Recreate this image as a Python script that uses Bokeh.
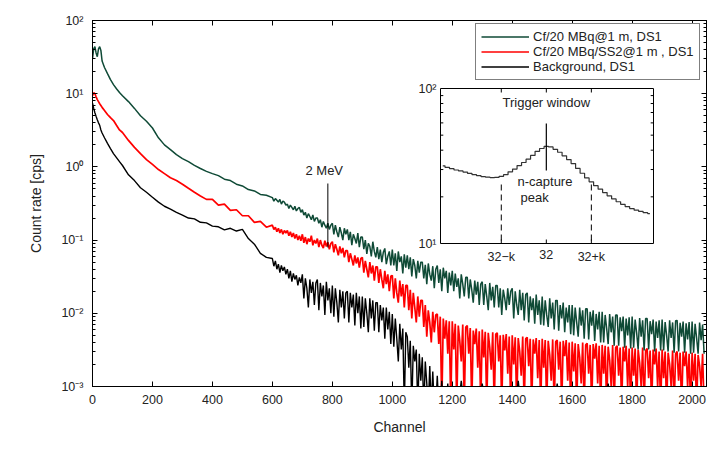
import math
from bokeh.plotting import figure
from bokeh.models import (Range1d, LogScale, LinearAxis, LogAxis, SingleIntervalTicker,
                          LogTicker, CustomJSTickFormatter, Legend, LegendItem)
from bokeh.core.properties import value
from bokeh.embed import file_html
from bokeh.resources import INLINE

FONT = "Liberation Sans"
TXT = "#222222"

# ---------------- data ----------------
low_channels = [0, 4, 8, 12, 16, 20, 24, 28, 32, 40, 50, 60, 70, 80, 90,
                100, 120, 140, 160, 180, 200, 220, 240, 260, 280, 300, 320, 340, 360, 380,
                400, 420, 440, 460, 480, 500, 520, 540, 560, 580]
channels = low_channels + list(range(600, 2041, 5))
bg_channels = low_channels + list(range(600, 1201, 5)) + list(range(1210, 2041, 10))

cf_ds1 = [
    30, 41, 44, 36, 32, 41, 44, 39, 28, 22.8, 18.8, 15.6, 13.3, 11.7, 10.4,
    9.4, 7.8, 6.3, 5.0, 4.2, 3.4, 2.5, 2.0, 1.72, 1.47, 1.30, 1.18, 1.05, 0.95, 0.87,
    0.81, 0.76, 0.68, 0.65, 0.58, 0.55, 0.49, 0.47, 0.42, 0.41,
    0.38, 0.34, 0.37, 0.35, 0.33, 0.36, 0.31, 0.34, 0.33, 0.30,
    0.31, 0.27, 0.30, 0.28, 0.26, 0.29, 0.25, 0.27, 0.28, 0.24,
    0.26, 0.22, 0.24, 0.20, 0.23, 0.21, 0.19, 0.22, 0.18, 0.20,
    0.20, 0.17, 0.19, 0.15, 0.18, 0.16, 0.145, 0.17, 0.14, 0.16,
    0.17, 0.12, 0.16, 0.13, 0.11, 0.15, 0.125, 0.10, 0.145, 0.12,
    0.14, 0.10, 0.13, 0.085, 0.12, 0.105, 0.09, 0.125, 0.08, 0.11,
    0.11, 0.075, 0.10, 0.065, 0.09, 0.082, 0.06, 0.095, 0.07, 0.058,
    0.08, 0.055, 0.074, 0.05, 0.068, 0.077, 0.047, 0.06, 0.07, 0.045,
    0.074, 0.045, 0.066, 0.038, 0.07, 0.05, 0.06, 0.035, 0.064, 0.042,
    0.062, 0.04, 0.058, 0.032, 0.055, 0.045, 0.03, 0.052, 0.036, 0.05,
    0.05, 0.03, 0.046, 0.025, 0.048, 0.034, 0.028, 0.044, 0.022, 0.04,
    0.045, 0.026, 0.04, 0.02, 0.042, 0.03, 0.038, 0.019, 0.036, 0.024,
    0.038, 0.02, 0.035, 0.023, 0.03, 0.016, 0.034, 0.025, 0.017, 0.031,
    0.031, 0.016, 0.029, 0.021, 0.014, 0.028, 0.018, 0.027, 0.013, 0.025,
    0.027, 0.013, 0.025, 0.017, 0.011, 0.026, 0.015, 0.023, 0.012, 0.024,
    0.024, 0.012, 0.022, 0.0095, 0.021, 0.016, 0.011, 0.022, 0.013, 0.02,
    0.022, 0.0085, 0.02, 0.013, 0.0095, 0.021, 0.011, 0.019, 0.008, 0.018,
    0.019, 0.0075, 0.017, 0.011, 0.016, 0.0072, 0.018, 0.0095, 0.015, 0.007,
    0.017, 0.0068, 0.015, 0.0095, 0.0065, 0.016, 0.0085, 0.014, 0.006, 0.015,
    0.015, 0.0058, 0.013, 0.0085, 0.014, 0.0055, 0.012, 0.0075, 0.013, 0.0052,
    0.013, 0.005, 0.012, 0.0075, 0.0048, 0.012, 0.0068, 0.011, 0.0045, 0.0115,
    0.0115, 0.0044, 0.0105, 0.0068, 0.011, 0.0042, 0.0098, 0.006, 0.0105, 0.004,
    0.0105, 0.004, 0.0095, 0.0062, 0.0038, 0.0098, 0.0055, 0.009, 0.0036, 0.0095,
    0.0095, 0.0036, 0.0088, 0.0057, 0.009, 0.0034, 0.0085, 0.005, 0.0088, 0.0033,
    0.009, 0.0034, 0.0082, 0.0054, 0.0032, 0.0086, 0.0048, 0.008, 0.0031, 0.0085,
    0.0085, 0.0032, 0.0078, 0.0052, 0.0082, 0.003, 0.0077, 0.0046, 0.008, 0.0031,
    0.0082, 0.0031, 0.0076, 0.005, 0.003, 0.008, 0.0046, 0.0075, 0.0029, 0.0079,
    0.008, 0.003, 0.0074, 0.0048, 0.0077, 0.0029, 0.0073, 0.0044, 0.0076, 0.0028,
    0.0077, 0.0029, 0.0072, 0.0046, 0.0028, 0.0075, 0.0043, 0.007, 0.0028,
]

cf_ss2_ds1 = [
    9.4, 10.3, 10.0, 9.1, 8.3, 7.8, 7.3, 6.9, 6.5, 5.9, 5.2, 4.7, 4.3, 3.7, 3.2,
    2.95, 2.3, 1.85, 1.52, 1.26, 1.08, 0.92, 0.81, 0.71, 0.65, 0.58, 0.51, 0.45, 0.40, 0.36,
    0.36, 0.30, 0.31, 0.255, 0.26, 0.215, 0.215, 0.175, 0.18, 0.15,
    0.16, 0.14, 0.15, 0.13, 0.145, 0.125, 0.14, 0.12, 0.135, 0.125,
    0.135, 0.115, 0.13, 0.11, 0.125, 0.105, 0.12, 0.10, 0.115, 0.098,
    0.12, 0.092, 0.11, 0.088, 0.105, 0.095, 0.115, 0.085, 0.10, 0.09,
    0.105, 0.08, 0.10, 0.085, 0.078, 0.098, 0.082, 0.094, 0.075, 0.09,
    0.095, 0.068, 0.088, 0.075, 0.062, 0.082, 0.066, 0.078, 0.058, 0.072,
    0.072, 0.05, 0.066, 0.055, 0.045, 0.062, 0.048, 0.058, 0.042, 0.056,
    0.058, 0.036, 0.052, 0.04, 0.031, 0.05, 0.035, 0.045, 0.028, 0.043,
    0.043, 0.026, 0.04, 0.029, 0.022, 0.038, 0.025, 0.034, 0.02, 0.032,
    0.033, 0.016, 0.03, 0.019, 0.014, 0.028, 0.017, 0.025, 0.012, 0.024,
    0.024, 0.011, 0.021, 0.0085, 0.019, 0.012, 0.0075, 0.017, 0.009, 0.015,
    0.015, 0.0065, 0.013, 0.0048, 0.011, 0.0075, 0.004, 0.0105, 0.0055, 0.0095,
    0.0098, 0.0038, 0.009, 0, 0.0085, 0.0045, 0.008, 0.0028, 0.0078, 0,
    0.0078, 0.0032, 0.0072, 0, 0.0068, 0.0042, 0.0022, 0.007, 0, 0.0065,
    0.0068, 0.0028, 0.0063, 0, 0.0058, 0.0038, 0.0062, 0.0018, 0.0057, 0,
    0.006, 0.0025, 0.0056, 0, 0.0054, 0.0034, 0.0017, 0.0055, 0, 0.0052,
    0.0054, 0.0022, 0.005, 0, 0.0051, 0.0031, 0.0052, 0.0015, 0.0048, 0,
    0.005, 0.002, 0.0047, 0, 0.0046, 0.003, 0.0014, 0.0048, 0, 0.0045,
    0.0047, 0.0019, 0.0045, 0, 0.0044, 0.0028, 0.0046, 0.0013, 0.0043, 0,
    0.0045, 0.0018, 0.0043, 0, 0.0042, 0.0027, 0.0012, 0.0044, 0, 0.0041,
    0.0043, 0.0017, 0.0041, 0, 0.0042, 0.0026, 0.0043, 0.0012, 0.004, 0,
    0.0041, 0.0016, 0.0039, 0, 0.0038, 0.0025, 0.0011, 0.004, 0, 0.0037,
    0.0039, 0.0015, 0.0037, 0, 0.0038, 0.0024, 0.0039, 0.0011, 0.0036, 0,
    0.0037, 0.0015, 0.0036, 0, 0.0035, 0.0023, 0.001, 0.0037, 0, 0.0034,
    0.0036, 0.0014, 0.0034, 0, 0.0035, 0.0022, 0.0036, 0.001, 0.0033, 0,
    0.0034, 0.0014, 0.0033, 0, 0.0032, 0.0021, 0.001, 0.0034, 0, 0.0031,
    0.0033, 0.0013, 0.0031, 0, 0.0032, 0.002, 0.0033, 0.001, 0.003, 0,
    0.0032, 0.0013, 0.003, 0, 0.0029, 0.002, 0.001, 0.0031, 0, 0.0028,
    0.003, 0.0012, 0.0029, 0, 0.003, 0.0019, 0.003, 0.001, 0.0028, 0,
    0.0029, 0.0012, 0.0028, 0, 0.0027, 0.0019, 0.001, 0.0028, 0,
]

background_ds1 = [
    7.4, 6.3, 5.5, 4.9, 4.4, 4.0, 3.7, 3.2, 2.9, 2.5, 2.1, 1.78, 1.52, 1.34, 1.18,
    1.045, 0.78, 0.65, 0.52, 0.45, 0.385, 0.33, 0.29, 0.265, 0.24, 0.22, 0.20, 0.195, 0.175, 0.172,
    0.155, 0.152, 0.138, 0.145, 0.133, 0.14, 0.105, 0.088, 0.066, 0.058,
    0.056, 0.044, 0.052, 0.04, 0.047, 0.036, 0.045, 0.038, 0.043, 0.034,
    0.04, 0.03, 0.038, 0.027, 0.035, 0.029, 0.033, 0.024, 0.031, 0.026,
    0.034, 0.016, 0.03, 0.022, 0.012, 0.029, 0.019, 0.027, 0.013, 0.026,
    0.029, 0.011, 0.026, 0.017, 0.024, 0.0095, 0.027, 0.015, 0.022, 0.01,
    0.024, 0.009, 0.022, 0.014, 0.0075, 0.021, 0.012, 0.02, 0.0085, 0.019,
    0.02, 0.0075, 0.019, 0.012, 0.018, 0.0068, 0.019, 0.01, 0.017, 0.0062,
    0.017, 0.0065, 0.016, 0.01, 0.0055, 0.016, 0.0085, 0.015, 0.0058, 0.014,
    0.014, 0.0055, 0.013, 0.008, 0.012, 0.0045, 0.012, 0.006, 0.0105, 0.0038,
    0.0098, 0.0035, 0.0085, 0.0045, 0.0022, 0.0072, 0.0032, 0.0062, 0, 0.0055,
    0.0048, 0.0018, 0.0042, 0, 0.0036, 0.0022, 0.0032, 0, 0.0028, 0.0012,
    0.0025, 0, 0.0022, 0.0011, 0, 0.0019, 0, 0.0016, 0, 0,
    0.0014, 0, 0, 0.0012, 0, 0, 0, 0.0011, 0, 0,
    0,
    0, 0, 0.0012, 0, 0, 0, 0, 0, 0, 0.0011,
    0, 0, 0, 0, 0, 0, 0, 0, 0, 0,
    0, 0.0012, 0, 0, 0, 0, 0, 0, 0, 0,
    0, 0, 0, 0, 0.0011, 0, 0, 0, 0, 0,
    0, 0, 0, 0, 0, 0, 0, 0, 0, 0,
    0, 0.0011, 0, 0, 0, 0, 0, 0, 0, 0,
    0, 0, 0, 0, 0, 0, 0, 0, 0, 0,
    0, 0, 0, 0, 0, 0, 0, 0, 0, 0,
    0, 0, 0, 0,
]

series_labels = ["Cf/20 MBq@1 m, DS1", "Cf/20 MBq/SS2@1 m , DS1", "Background, DS1"]
series_colors = ["#0f4a36", "#ff0000", "#000000"]

# inset: zoom around the n-capture peak
inset_channel = list(range(9, 56))
inset_rate = [31.7, 31.0, 30.4, 29.8, 29.4, 28.9, 28.3, 27.8, 27.4, 27.0, 26.8, 26.6,
              26.7, 27.1, 27.8, 29.0, 30.2, 31.8, 33.3, 35.0, 37.0, 39.3, 41.0, 42.3,
              42.0, 40.5, 38.8, 36.8, 34.8, 32.8, 30.5, 28.4, 26.5, 25.0, 23.6, 22.4,
              21.3, 20.3, 19.4, 18.6, 17.9, 17.3, 16.8, 16.4, 16.1, 15.8, 15.6]
inset_tick_pos = [22, 32, 42]
inset_tick_labels = ["32\u2212k", "32", "32+k"]
mev2_channel = 785

ZERO_FLOOR = 5e-4  # zero counts drawn below the axis floor


def for_log(vals):
    return [v if v > 0 else ZERO_FLOOR for v in vals]


# ---------------- layout geometry (pixels) ----------------
W, H = 711, 451
FL, FR, FT, FB = 92, 706, 20, 386

p = figure(width=W, height=H, x_range=Range1d(0, 2048), y_range=Range1d(1e-3, 1e2),
           y_axis_type="log", output_backend="svg", toolbar_location=None,
           min_border_left=FL, min_border_right=W - FR, min_border_top=FT,
           min_border_bottom=H - FB)
p.xgrid.visible = False
p.ygrid.visible = False
p.outline_line_color = "black"
p.background_fill_color = "white"
p.border_fill_color = "white"

sup = CustomJSTickFormatter(code="""
const m = {"-": "\u207b", "0": "\u2070", "1": "\u00b9", "2": "\u00b2", "3": "\u00b3",
           "4": "\u2074", "5": "\u2075", "6": "\u2076", "7": "\u2077", "8": "\u2078", "9": "\u2079"};
const e = Math.round(Math.log10(tick));
return "10" + String(e).split("").map(c => m[c]).join("");
""")
blank = CustomJSTickFormatter(code="return ''")

xa = p.xaxis[0]
xa.ticker = SingleIntervalTicker(interval=200, num_minor_ticks=0)
xa.axis_label = "Channel"
ya = p.yaxis[0]
ya.ticker = LogTicker(num_minor_ticks=10)
ya.formatter = sup
ya.axis_label = "Count rate [cps]"
for ax in (xa, ya):
    ax.major_tick_in = 5
    ax.major_tick_out = 0
    ax.minor_tick_in = 3
    ax.minor_tick_out = 0
    ax.major_label_text_font = FONT
    ax.major_label_text_font_size = "12.5px"
    ax.major_label_text_color = TXT
    ax.axis_label_text_font = FONT
    ax.axis_label_text_font_size = "14px"
    ax.axis_label_text_font_style = "normal"
    ax.axis_label_text_color = TXT
    ax.axis_line_color = "black"
    ax.major_tick_line_color = "black"
    ax.minor_tick_line_color = "black"
xa.major_label_standoff = 8
xa.axis_label_standoff = 12
ya.major_label_standoff = 9
ya.axis_label_standoff = 14

top = LinearAxis(ticker=SingleIntervalTicker(interval=200, num_minor_ticks=0), formatter=blank,
                 major_tick_in=5, major_tick_out=0, major_label_standoff=0,
                 axis_line_color="black")
p.add_layout(top, "above")
right = LogAxis(ticker=LogTicker(num_minor_ticks=10), formatter=blank,
                major_tick_in=5, major_tick_out=0, minor_tick_in=3, minor_tick_out=0,
                major_label_standoff=0, axis_line_color="black")
p.add_layout(right, "right")

# ---------------- spectra ----------------
r_red = p.line(channels, for_log(cf_ss2_ds1), line_color=series_colors[1], line_width=1.7)
r_green = p.line(channels, for_log(cf_ds1), line_color=series_colors[0], line_width=1.5)
r_black = p.line(bg_channels, for_log(background_ds1), line_color=series_colors[2],
                 line_width=1.4)


def main_y(py):
    return 10 ** (2 - 5 * (py - FT) / (FB - FT))


# 2 MeV marker
p.segment(x0=[mev2_channel], y0=[main_y(183)], x1=[mev2_channel], y1=[main_y(247)],
          line_color="black", line_width=1)
p.text(x=[mev2_channel - 12], y=[main_y(170)], text=["2 MeV"], text_align="center",
       text_baseline="middle", text_font=value(FONT), text_font_size="13px", text_color=TXT)

legend = Legend(items=[LegendItem(label=series_labels[0], renderers=[r_green]),
                       LegendItem(label=series_labels[1], renderers=[r_red]),
                       LegendItem(label=series_labels[2], renderers=[r_black])],
                location=(475 - FL, FB - 80), margin=0, padding=5, spacing=0,
                glyph_width=48, glyph_height=15, label_height=15, label_standoff=4,
                label_text_font=FONT, label_text_font_size="13px", label_text_color=TXT,
                border_line_color="black", border_line_width=1,
                background_fill_color="white", background_fill_alpha=1)
p.add_layout(legend)

# ---------------- inset (own ranges mapped onto a sub-box of the frame) ----------------
IL, IR, IT, IB = 440, 653, 88, 243
IX0, IX1 = 8.5, 55.8
IY0, IY1 = 10.0, 100.0
sx = (IX1 - IX0) / (IR - IL)
dec_px = (IB - IT) / math.log10(IY1 / IY0)


def ix(px):
    return IX0 + (px - IL) * sx


def iy(py):
    return 10 ** (math.log10(IY0) + (IB - py) / dec_px)


p.extra_x_ranges = {"inset": Range1d(ix(FL), ix(FR))}
p.extra_y_ranges = {"inset": Range1d(iy(FB), iy(FT))}
p.extra_y_scales = {"inset": LogScale()}
kw = dict(x_range_name="inset", y_range_name="inset")

p.quad(left=[IX0], right=[IX1], bottom=[IY0], top=[IY1], fill_color="white",
       line_color="black", line_width=1, **kw)
p.step(inset_channel, inset_rate, mode="center", line_color="#333333", line_width=1.2, **kw)

# inset ticks (inward)
tick_len_x = 4 * sx
tick_fac = 10 ** (4 / dec_px)
p.segment(x0=inset_tick_pos, y0=[IY0] * 3, x1=inset_tick_pos, y1=[IY0 * tick_fac] * 3,
          line_color="black", **kw)
p.segment(x0=inset_tick_pos, y0=[IY1] * 3, x1=inset_tick_pos, y1=[IY1 / tick_fac] * 3,
          line_color="black", **kw)
minor_y = [20, 30, 40, 50, 60, 70, 80, 90]
p.segment(x0=[IX0] * 8, y0=minor_y, x1=[IX0 + tick_len_x * 0.7] * 8, y1=minor_y,
          line_color="black", **kw)
p.segment(x0=[IX1] * 8, y0=minor_y, x1=[IX1 - tick_len_x * 0.7] * 8, y1=minor_y,
          line_color="black", **kw)

p.text(x=inset_tick_pos, y=[iy(249)] * 3, text=inset_tick_labels, text_align="center",
       text_baseline="top", text_font=value(FONT), text_font_size="12.5px",
       text_color=TXT, **kw)
p.text(x=[ix(436)] * 2, y=[IY1, IY0], text=["10\u00b2", "10\u00b9"], text_align="right",
       text_baseline="middle", text_font=value(FONT), text_font_size="12.5px",
       text_color=TXT, **kw)

# trigger window marker
p.segment(x0=[32], y0=[iy(123)], x1=[32], y1=[iy(170)], line_color="black", line_width=1.2, **kw)
p.text(x=[32], y=[iy(102)], text=["Trigger window"], text_align="center",
       text_baseline="middle", text_font=value(FONT), text_font_size="13px",
       text_color=TXT, **kw)
p.text(x=[ix(517), ix(520)], y=[iy(181), iy(197)], text=["n-capture", "peak"],
       text_align="left", text_baseline="middle", text_font=value(FONT),
       text_font_size="13px", text_color=TXT, **kw)
p.segment(x0=[22, 42], y0=[iy(184)] * 2, x1=[22, 42], y1=[IY0] * 2, line_color="black",
          line_width=1, line_dash="6 4", **kw)

open("out.html", "w").write(file_html(p, INLINE))
